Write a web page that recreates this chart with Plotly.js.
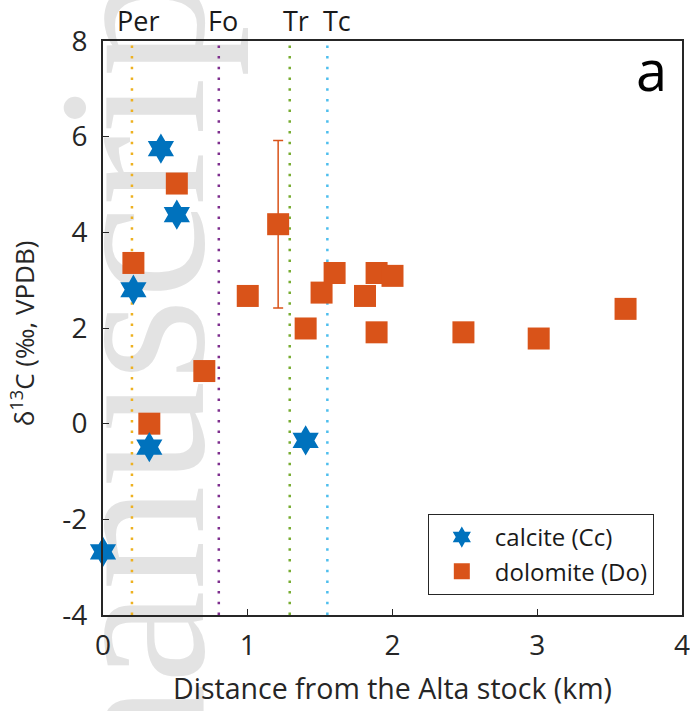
<!DOCTYPE html>
<html>
<head>
<meta charset="utf-8">
<script src="https://cdn.plot.ly/plotly-3.0.1.min.js"></script>
<style>
  html, body { margin: 0; padding: 0; background: #ffffff; overflow: hidden; }
  #wrap { position: relative; width: 690px; height: 711px; overflow: hidden; }
  #wm { position: absolute; left: 27px; top: 847px; transform-origin: 0 0; transform: rotate(-90deg);
        font-family: "Liberation Serif", serif; font-size: 210px; line-height: 1; color: #e3e3e3;
        white-space: nowrap; z-index: 0; }
  #chart { position: absolute; left: 0; top: 0; z-index: 1; }
</style>
</head>
<body>
<div id="wrap">
  <div id="wm">manuscript</div>
  <div id="chart"></div>
</div>
<script>
// Calcite (Cc) samples
const calciteX = [0.00, 0.21, 0.32, 0.40, 0.51, 1.40];
const calciteY = [-2.68, 2.80, -0.49, 5.75, 4.37, -0.35];
// Dolomite (Do) samples
const dolomiteX = [0.21, 0.32, 0.51, 0.70, 1.00, 1.21, 1.40, 1.51, 1.60, 1.81, 1.89, 1.89, 2.00, 2.49, 3.01, 3.61];
const dolomiteY = [3.36, 0.00, 5.02, 1.10, 2.67, 4.17, 1.99, 2.74, 3.15, 2.67, 3.15, 1.91, 3.09, 1.91, 1.78, 2.40];
const dolomiteErr = [0, 0, 0, 0, 0, 1.75, 0, 0, 0, 0, 0, 0, 0, 0, 0, 0];
// Mineral isograds
const isogradNames = ['Per', 'Fo', 'Tr', 'Tc'];
const isogradX = [0.20, 0.80, 1.29, 1.55];
const isogradColors = ['#EDB120', '#7E2F8E', '#77AC30', '#4DBEEE'];
const xTicks = [0, 1, 2, 3, 4];
const yTicks = [-4, -2, 0, 2, 4, 6, 8];

const FONT = '"Open Sans", "Noto Sans", sans-serif';
const AX = '#262626';

const traces = [];
isogradX.forEach((xv, i) => {
  traces.push({
    x: [xv, xv], y: [-4, 8], mode: 'lines', type: 'scatter',
    line: {color: isogradColors[i], width: 2.5, dash: '2.5px,8.2px'},
    showlegend: false, hoverinfo: 'skip'
  });
});
traces.push({
  x: dolomiteX, y: dolomiteY, type: 'scatter', mode: 'markers',
  name: 'dolomite (Do)', legendrank: 2, legendgroup: 'do',
  marker: {symbol: 'square', size: 22, color: '#D95319', line: {width: 0}},
  error_y: {type: 'data', array: dolomiteErr, visible: true, color: '#D95319', thickness: 1.5, width: 5},
  cliponaxis: false
});
traces.push({
  x: calciteX, y: calciteY, type: 'scatter', mode: 'markers',
  name: 'calcite (Cc)', legendrank: 1, legendgroup: 'cc',
  marker: {symbol: 'hexagram', size: 23, color: '#0072BD', line: {width: 0}},
  cliponaxis: false
});

const shifts = [6, 4, 6, 10];
const annotations = isogradNames.map((n, i) => ({
  text: n, x: isogradX[i], xref: 'x', y: 1.036, yref: 'paper',
  xanchor: 'center', yanchor: 'middle', xshift: shifts[i], showarrow: false,
  font: {family: FONT, size: 27, color: '#1a1a1a'}
}));
annotations.push({
  text: 'a', x: 0.977, y: 0.952, xref: 'paper', yref: 'paper',
  xanchor: 'right', yanchor: 'middle', showarrow: false,
  font: {family: FONT, size: 56, color: '#000000'}
});
// y-axis title
annotations.push({
  text: 'δ<sup>13</sup>C (‰, VPDB)', x: -0.139, y: 0.49, xref: 'paper', yref: 'paper',
  xanchor: 'center', yanchor: 'middle', textangle: -90, showarrow: false,
  font: {family: FONT, size: 26, color: AX}
});

const layout = {
  width: 690, height: 711,
  margin: {l: 103, r: 8, t: 41, b: 96},
  paper_bgcolor: 'rgba(0,0,0,0)', plot_bgcolor: 'rgba(0,0,0,0)',
  font: {family: FONT, color: AX},
  showlegend: true,
  legend: {
    x: 0.561, y: 0.176, xanchor: 'left', yanchor: 'top',
    bgcolor: '#ffffff', bordercolor: AX, borderwidth: 1,
    font: {family: FONT, size: 24, color: '#1a1a1a'},
    traceorder: 'grouped', tracegroupgap: 0, itemwidth: 56
  },
  xaxis: {
    range: [0, 4], tickvals: xTicks, ticktext: xTicks.map(String),
    ticks: 'inside', ticklen: 6, tickwidth: 1, tickcolor: AX,
    showline: true, linewidth: 2, linecolor: AX, mirror: true,
    showgrid: false, zeroline: false, ticklabeloverflow: 'allow',
    tickfont: {family: FONT, size: 28, color: AX}, ticklabelstandoff: 4,
    title: {text: 'Distance from the Alta stock (km)', font: {family: FONT, size: 28.5, color: AX}, standoff: 17}
  },
  yaxis: {
    range: [-4, 8], tickvals: yTicks, ticktext: yTicks.map(String),
    ticks: 'inside', ticklen: 6, tickwidth: 1, tickcolor: AX,
    showline: true, linewidth: 2, linecolor: AX, mirror: true,
    showgrid: false, zeroline: false,
    tickfont: {family: FONT, size: 28, color: AX}, ticklabelstandoff: 8
  },
  annotations: annotations
};

Plotly.newPlot('chart', traces, layout, {staticPlot: true, displayModeBar: false});
</script>
</body>
</html>
